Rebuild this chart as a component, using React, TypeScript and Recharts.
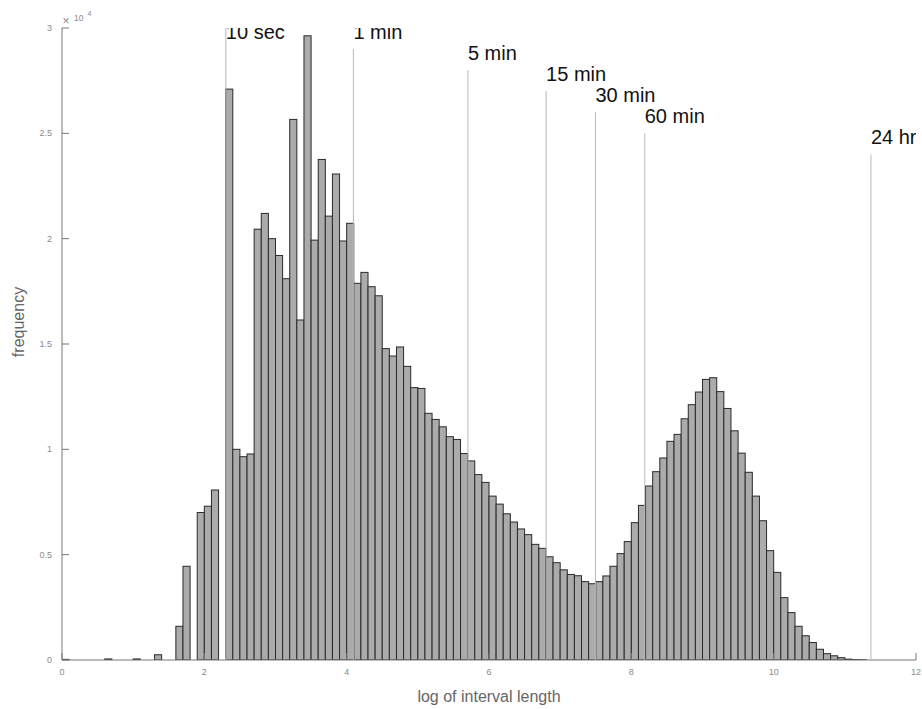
import { ComposedChart, Bar, Scatter, XAxis, YAxis, Label } from 'recharts';

// histogram of log(interval length in seconds), bins of 0.1
const binWidth = 0.1;
const binCounts = [
  30, 0, 0, 0, 0, 0, 50, 0, 0, 0,
  50, 0, 0, 250, 0, 0, 1600, 4450, 0, 7000,
  7300, 8070, 0, 27100, 10000, 9650, 9780, 20450, 21200, 20000,
  19200, 18100, 25660, 16140, 29630, 19930, 23760, 21070, 23070, 19890,
  20730, 17880, 18400, 17720, 17290, 14780, 14430, 14860, 13940, 12930,
  12890, 11710, 11420, 11070, 10600, 10470, 9800, 9450, 8800, 8430,
  7780, 7400, 6940, 6550, 6220, 5950, 5490, 5300, 4900, 4620,
  4280, 4060, 4000, 3720, 3620, 3720, 3990, 4450, 5050, 5620,
  6520, 7340, 8260, 8940, 9590, 10380, 10710, 11450, 12120, 12720,
  13320, 13400, 12740, 11940, 10880, 9820, 8910, 7780, 6610, 5190,
  4160, 2960, 2250, 1600, 1150, 830, 510, 300, 200, 110,
  40, 20, 10, 0, 0, 0, 0, 0, 0, 0,
];

const xTicks = [0, 2, 4, 6, 8, 10, 12];
const yTicks = [0, 5000, 10000, 15000, 20000, 25000, 30000];

const markerLabels = ['10 sec', '1 min', '5 min', '15 min', '30 min', '60 min', '24 hr'];
const markerSeconds = [10, 60, 300, 900, 1800, 3600, 86400];
const markerTops = [30000, 29000, 28000, 27000, 26000, 25000, 24000];
const markerLabelLevels = [29500, 29500, 28500, 27500, 26500, 25500, 24500];

const bins = binCounts.map((count, i) => ({ x: (i + 0.5) * binWidth, count }));
const markers = markerLabels.map((label, i) => ({
  label,
  x: Math.log(markerSeconds[i]),
  top: markerTops[i],
  labelY: markerLabelLevels[i],
}));

const W = 922;
const H = 709;
const margin = { top: 28, right: 6, bottom: 19, left: 0 };
const yAxisWidth = 62;
const xAxisHeight = 30;
const xMax = 12;
const plotBottom = H - margin.bottom - xAxisHeight;
const binPx = ((W - margin.right - yAxisWidth) * binWidth) / xMax;

const font = '"Liberation Sans", Arial, Helvetica, sans-serif';
const axisColor = '#777';
const tickColor = '#8a8a8a';

function XTick({ x, y, payload }: any) {
  return (
    <g>
      <line x1={x} x2={x} y1={y} y2={y - 7} stroke={axisColor} />
      <text x={x} y={y + 15} textAnchor="middle" fontSize={9} fill={tickColor} fontFamily={font}>
        {payload.value}
      </text>
    </g>
  );
}

function YTick({ x, y, payload }: any) {
  return (
    <g>
      <line x1={x} x2={x + 7} y1={y} y2={y} stroke={axisColor} />
      <text x={x - 10} y={y + 3} textAnchor="end" fontSize={9} fill={tickColor} fontFamily={font}>
        {payload.value / 10000}
      </text>
    </g>
  );
}

// full-width histogram bin centred on the bar's x position
function BinShape(props: any) {
  const { x, width, y, height } = props;
  if (!height || height <= 0) return null;
  const cx = x + width / 2;
  return (
    <rect
      x={cx - binPx / 2}
      y={y}
      width={binPx}
      height={height}
      fill="#ababab"
      stroke="#2a2a2a"
      strokeWidth={1}
    />
  );
}

// vertical marker from the x axis up to the marker's top value (drawn under the bars)
function MarkerLine(props: any) {
  const { cx, cy } = props;
  return <line x1={cx} x2={cx} y1={cy} y2={plotBottom} stroke="#b8b8b8" strokeWidth={1} />;
}

function MarkerLabel(props: any) {
  const { cx, cy, payload } = props;
  return (
    <text x={cx} y={cy} fontSize={20} fill="#111" fontFamily={font}>
      {payload.label}
    </text>
  );
}

export default function App() {
  const ax = margin.left + yAxisWidth;
  return (
    <div style={{ position: 'absolute', left: 0, top: 0, width: W, height: H, background: '#fff' }}>
      <ComposedChart width={W} height={H} data={bins} margin={margin}>
        <XAxis
          type="number"
          dataKey="x"
          domain={[0, xMax]}
          ticks={xTicks}
          interval={0}
          allowDataOverflow
          height={xAxisHeight}
          stroke={axisColor}
          tickLine={false}
          tickSize={0}
          tickMargin={0}
          tick={<XTick />}
        >
          <Label
            content={({ viewBox }: any) => (
              <text
                x={viewBox.x + viewBox.width / 2}
                y={viewBox.y + 42}
                textAnchor="middle"
                fontSize={16}
                fill="#666"
                fontFamily={font}
              >
                log of interval length
              </text>
            )}
          />
        </XAxis>
        <YAxis
          type="number"
          domain={[0, 30000]}
          ticks={yTicks}
          interval={0}
          allowDataOverflow
          width={yAxisWidth}
          stroke={axisColor}
          tickLine={false}
          tickSize={0}
          tickMargin={0}
          tick={<YTick />}
        >
          <Label
            content={({ viewBox }: any) => {
              const cx = 24;
              const cy = viewBox.y + viewBox.height / 2 - 22;
              return (
                <text
                  x={cx}
                  y={cy}
                  transform={`rotate(-90, ${cx}, ${cy})`}
                  textAnchor="middle"
                  fontSize={16}
                  fill="#666"
                  fontFamily={font}
                >
                  frequency
                </text>
              );
            }}
          />
        </YAxis>
        <Scatter data={markers} dataKey="top" shape={<MarkerLine />} isAnimationActive={false} />
        <Bar dataKey="count" shape={<BinShape />} isAnimationActive={false} />
        <Scatter data={markers} dataKey="labelY" shape={<MarkerLabel />} isAnimationActive={false} />
      </ComposedChart>
      <svg
        width={60}
        height={30}
        style={{ position: 'absolute', left: ax, top: 0, overflow: 'visible' }}
        fontFamily={font}
        fill={tickColor}
      >
        <text x={0.5} y={25} fontSize={12}>
          ×
        </text>
        <text x={12} y={21} fontSize={8.5}>
          10
        </text>
        <text x={25.5} y={16} fontSize={7}>
          4
        </text>
      </svg>
    </div>
  );
}
